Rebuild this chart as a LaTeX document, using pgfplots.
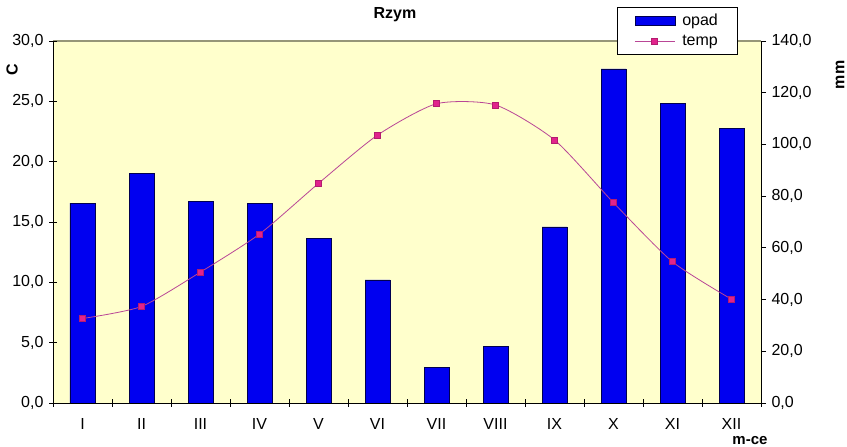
\documentclass[border=0pt]{standalone}
\usepackage{pgfplots}
\pgfplotsset{compat=1.18}
\usepackage{fontspec}
\setmainfont{Liberation Sans}
\definecolor{bg}{RGB}{255,255,204}
\definecolor{barblue}{RGB}{0,0,240}
\definecolor{baredge}{RGB}{0,0,80}
\definecolor{tline}{RGB}{185,70,150}
\definecolor{tmark}{RGB}{225,35,140}
\definecolor{frame}{RGB}{150,150,120}
\pgfplotsset{
  common/.style={scale only axis, width=708pt, height=362pt, at={(0,0)}, anchor=south west,
    xmin=0.5, xmax=12.5,
    /pgf/number format/use comma, /pgf/number format/fixed, /pgf/number format/fixed zerofill,
    /pgf/number format/precision=1, /pgf/number format/assume math mode=true,
    tick label style={font=\fontsize{16}{18}\selectfont},
    tick style={black, line width=0.8pt},
  },
  barleg/.style={legend image code/.code={\draw[##1] (0pt,-4.5pt) rectangle (40pt,4.5pt);}},
  lineleg/.style={legend image code/.code={\draw[##1] (0pt,0pt) -- (40pt,0pt); \draw[##1] plot coordinates {(20pt,0pt)};}},
}
\begin{document}
\begin{tikzpicture}
\path[use as bounding box] (-53pt,-44pt) rectangle (794pt,403pt);
\begin{axis}[common, ymin=0, ymax=140, axis y line*=right, axis x line=none,
  ytick={0,20,...,140}, axis background/.style={fill=bg},
  ytick align=outside, major tick length=5pt,
  y axis line style={black, line width=0.8pt},
  yticklabel style={xshift=2pt}]
\draw[frame, line width=1.2pt] (rel axis cs:0,1) -- (rel axis cs:1,1);
\addplot[ybar, bar width=25pt, fill=barblue, draw=baredge, line width=0.6pt] coordinates {
(1,77.3) (2,88.9) (3,78.1) (4,77.3) (5,63.8) (6,47.6) (7,13.9) (8,22.0) (9,68.1) (10,129.2) (11,116.0) (12,106.3)};
\end{axis}
\begin{axis}[common, ymin=0, ymax=30, axis y line*=left, axis x line*=bottom,
  ytick={0,5,...,30}, xtick={1,...,12},
  xticklabels={I,II,III,IV,V,VI,VII,VIII,IX,X,XI,XII},
  major x tick style={draw=none},
  minor xtick={0.5,1.5,...,12.5},
  tick align=center, major tick length=8pt, minor tick length=8pt,
  axis line style={black, line width=0.8pt},
  xticklabel style={yshift=-8pt},
  yticklabel style={xshift=-2pt},
  legend style={at={(rel axis cs:0.797,1.094)}, anchor=north west, draw=black, fill=white,
    font=\fontsize{16}{17}\selectfont, cells={anchor=west}, inner xsep=17pt, inner ysep=5pt,
    row sep=4pt, /tikz/every odd column/.append style={column sep=5pt}},
  ]
\addlegendimage{fill=barblue, draw=baredge, barleg}
\addlegendentry{opad}
\addplot[smooth, tension=0.4, color=tline, line width=0.8pt, mark=square*, mark size=3pt,
  mark options={fill=tmark, draw=tmark!80!black}, lineleg]
 coordinates {
(1,7.0) (2,8.0) (3,10.85) (4,14.0) (5,18.2) (6,22.2) (7,24.8) (8,24.7) (9,21.8) (10,16.6) (11,11.7) (12,8.6)};
\addlegendentry{temp}
\end{axis}
\node[rotate=90, font=\bfseries\fontsize{16}{18}\selectfont] at (-41pt,333pt) {C};
\node[rotate=90, font=\bfseries\fontsize{16}{18}\selectfont] at (787pt,328pt) {mm};
\node[font=\bfseries\fontsize{16}{18}\selectfont] at (342pt,388pt) {Rzym};
\node[font=\bfseries\fontsize{15}{16}\selectfont] at (697pt,-38pt) {m-ce};
\end{tikzpicture}
\end{document}
